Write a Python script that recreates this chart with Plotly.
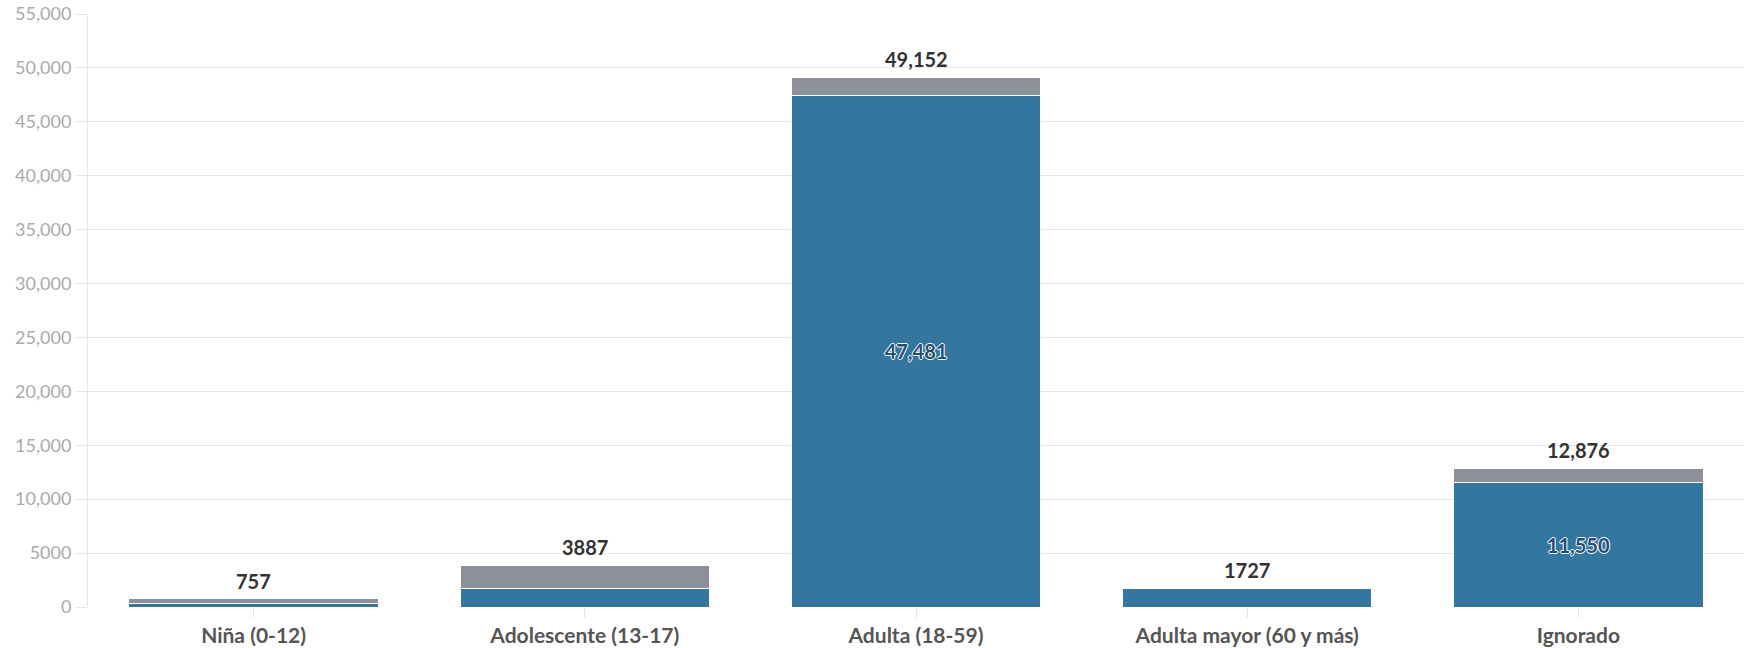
import plotly.graph_objects as go

categories = ["Niña (0-12)", "Adolescente (13-17)", "Adulta (18-59)", "Adulta mayor (60 y más)", "Ignorado"]
blue_values = [350, 1750, 47481, 1727, 11550]
gray_values = [407, 2137, 1671, 0, 1326]
totals = [757, 3887, 49152, 1727, 12876]
total_labels = ["757", "3887", "49,152", "1727", "12,876"]
inner_labels = ["", "", "47,481", "", "11,550"]
y_tickvals = [0, 5000, 10000, 15000, 20000, 25000, 30000, 35000, 40000, 45000, 50000, 55000]
y_ticktext = ["0", "5000", "10,000", "15,000", "20,000", "25,000", "30,000", "35,000",
              "40,000", "45,000", "50,000", "55,000"]

FONT = "Lato"
BLUE = "#33769f"
GRAY = "#8e9099"

fig = go.Figure()
fig.add_trace(go.Bar(
    x=categories, y=blue_values, marker=dict(color=BLUE, line=dict(color="white", width=1)),
    text=inner_labels, textposition="inside", insidetextanchor="middle",
    textfont=dict(family=FONT, size=20, color="#1f4f75", weight="bold",
                  shadow="1px 0 0 white, -1px 0 0 white, 0 1px 0 white, 0 -1px 0 white"),
    hoverinfo="skip", showlegend=False,
))
fig.add_trace(go.Bar(
    x=categories, y=gray_values, marker=dict(color=GRAY, line=dict(color="white", width=1)),
    hoverinfo="skip", showlegend=False,
))

for cat, tot, lab in zip(categories, totals, total_labels):
    fig.add_annotation(
        x=cat, y=tot, text=lab, showarrow=False, yanchor="bottom", yshift=4,
        font=dict(family=FONT, size=20, color="#333333", weight="bold"),
    )

fig.update_layout(
    width=1746, height=648,
    barmode="stack", bargap=0.247,
    plot_bgcolor="white", paper_bgcolor="white",
    margin=dict(l=88, r=2, t=14, b=41, autoexpand=False),
    font=dict(family=FONT),
)
fig.update_xaxes(
    showgrid=False, ticks="outside", ticklen=10, tickcolor="#e6e6e6",
    tickfont=dict(family=FONT, size=21, color="#555555", weight="bold"),
    showline=False, zeroline=False, automargin=False,
)
fig.update_yaxes(
    range=[0, 55000], tickvals=y_tickvals, ticktext=y_ticktext,
    showgrid=True, gridcolor="#e6e6e6", gridwidth=1,
    ticks="outside", ticklen=12, tickcolor="#e6e6e6",
    showline=True, linecolor="#e6e6e6", linewidth=1,
    zeroline=False, automargin=False,
    tickfont=dict(family=FONT, size=18, color="#aaaaaa"),
)

fig.write_html("out.html", config={"displayModeBar": False},
               post_script="document.body.style.margin='0';")
